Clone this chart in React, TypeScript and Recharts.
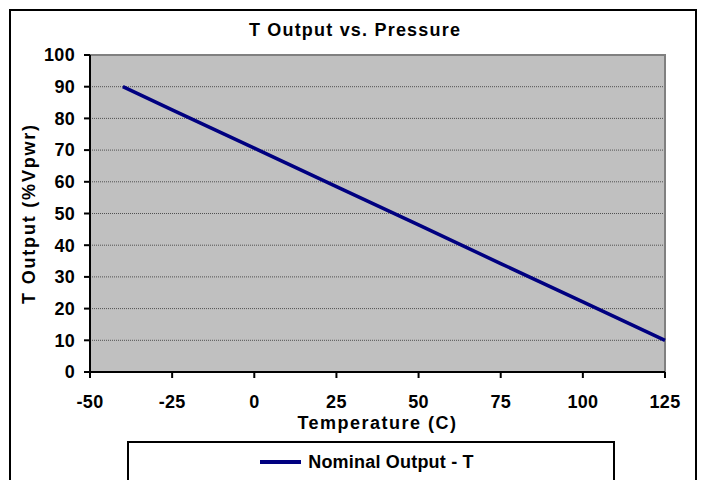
import React from 'react';
import {
  LineChart,
  Line,
  XAxis,
  YAxis,
  CartesianGrid,
  ReferenceArea,
} from 'recharts';

const temperatures = [-40, -25, 0, 25, 50, 75, 100, 125];
const nominalOutput = [90, 82.7, 70.6, 58.5, 46.4, 34.2, 22.1, 10];
const xTicks = [-50, -25, 0, 25, 50, 75, 100, 125];
const yTicks = [0, 10, 20, 30, 40, 50, 60, 70, 80, 90, 100];

const seriesName = 'Nominal Output - T';
const chartTitle = 'T Output vs. Pressure';
const xTitle = 'Temperature (C)';
const yTitle = 'T Output (%Vpwr)';

const data = temperatures.map((t, i) => ({ t, v: nominalOutput[i] }));

const FONT = 'Arial, "Liberation Sans", sans-serif';
const tickStyle = { fontFamily: FONT, fontSize: 18, fontWeight: 700, fill: '#000', letterSpacing: 0.3 };

export default function App() {
  return (
    <div style={{ position: 'absolute', left: 0, top: 0, width: 702, height: 480, background: '#fff', overflow: 'hidden' }}>
      <div
        style={{
          position: 'absolute',
          left: 9,
          top: 9,
          width: 688,
          height: 500,
          border: '2px solid #000',
          boxSizing: 'border-box',
        }}
      />
      <div
        style={{
          position: 'absolute',
          left: 0,
          width: 710,
          top: 20,
          textAlign: 'center',
          fontFamily: FONT,
          fontSize: 18,
          fontWeight: 700,
          letterSpacing: 1.2,
        }}
      >
        {chartTitle}
      </div>
      <div style={{ position: 'absolute', left: 0, top: 0 }}>
        <LineChart width={702} height={480} data={data} margin={{ top: 55, right: 37, bottom: 78, left: 30 }}>
          <CartesianGrid
            vertical={false}
            fill="#C0C0C0"
            stroke="#505050"
            strokeDasharray="1 1"
            horizontalValues={[10, 20, 30, 40, 50, 60, 70, 80, 90]}
          />
          <ReferenceArea x1={-50} x2={125} y1={0} y2={100} fill="none" stroke="#808080" strokeWidth={2} ifOverflow="visible" />
          <XAxis
            dataKey="t"
            type="number"
            domain={[-50, 125]}
            ticks={xTicks}
            interval={0}
            height={30}
            axisLine={{ stroke: '#000', strokeWidth: 2 }}
            tickLine={{ stroke: '#000', strokeWidth: 2 }}
            tickSize={6}
            tickMargin={17}
            tick={tickStyle}
            label={{
              value: xTitle,
              position: 'insideBottom',
              offset: -27,
              style: { fontFamily: FONT, fontSize: 18, fontWeight: 700, fill: '#000', letterSpacing: 1.5 },
            }}
          />
          <YAxis
            type="number"
            domain={[0, 100]}
            ticks={yTicks}
            interval={0}
            width={60}
            axisLine={{ stroke: '#000', strokeWidth: 2 }}
            tickLine={{ stroke: '#000', strokeWidth: 2 }}
            tickSize={6}
            tickMargin={9}
            tick={tickStyle}
            label={{
              value: yTitle,
              angle: -90,
              position: 'insideLeft',
              offset: -1,
              style: { textAnchor: 'middle', fontFamily: FONT, fontSize: 18, fontWeight: 700, fill: '#000', letterSpacing: 1.8 },
            }}
          />
          <Line
            type="linear"
            dataKey="v"
            name={seriesName}
            stroke="#000080"
            strokeWidth={3.5}
            dot={false}
            isAnimationActive={false}
          />
        </LineChart>
      </div>
      <div
        style={{
          position: 'absolute',
          left: 127,
          top: 441,
          width: 488,
          height: 60,
          border: '2px solid #000',
          boxSizing: 'border-box',
          background: '#fff',
          display: 'flex',
          justifyContent: 'center',
          paddingTop: 8,
          fontFamily: FONT,
          fontSize: 18,
          fontWeight: 700,
          letterSpacing: 0.2,
        }}
      >
        <div style={{ display: 'flex', alignItems: 'center', height: 22, marginLeft: -8 }}>
          <div style={{ width: 41, height: 4, background: '#000080', marginRight: 7 }} />
          <span>{seriesName}</span>
        </div>
      </div>
    </div>
  );
}
